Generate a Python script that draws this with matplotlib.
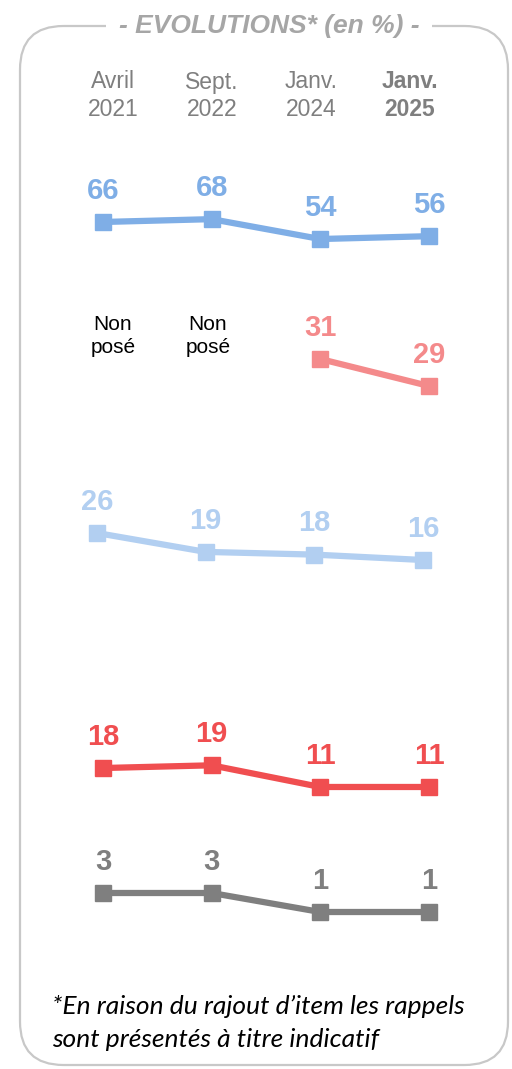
import matplotlib
matplotlib.use("Agg")
import matplotlib.pyplot as plt
import numpy as np
from matplotlib.patches import FancyBboxPatch

# ---- data ----
periods_top = ["Avril", "Sept.", "Janv.", "Janv."]
periods_bottom = ["2021", "2022", "2024", "2025"]
s1 = [66, 68, 54, 56]
s2 = [np.nan, np.nan, 31, 29]
s3 = [26, 19, 18, 16]
s4 = [18, 19, 11, 11]
s5 = [3, 3, 1, 1]
not_asked = "Non\nposé"
title = "- EVOLUTIONS* (en %) -"
footnote = "*En raison du rajout d\u2019item les rappels\nsont présentés à titre indicatif"

W, H = 512, 1069
fig = plt.figure(figsize=(W / 100, H / 100), dpi=100)
plt.rcParams['font.family'] = ['Liberation Sans', 'DejaVu Sans']

def fx(x):
    return x / W

def fy(y):
    return 1 - y / H

# rounded frame
frame = FancyBboxPatch((fx(20), fy(1065)), fx(508) - fx(20), fy(26) - fy(1065),
                       boxstyle="round,pad=0,rounding_size=0.085",
                       transform=fig.transFigure, fill=False,
                       edgecolor="#C8C8C8", linewidth=1.6, mutation_aspect=W / H)
fig.add_artist(frame)
fig.text(fx(269), fy(26), title, ha="center", va="center", fontsize=19,
         fontstyle="italic", fontweight="bold", color="#A6A6A6",
         bbox=dict(facecolor="white", edgecolor="none", pad=9))

# header
hx = [113, 212, 311, 410]
for i, (a, b) in enumerate(zip(periods_top, periods_bottom)):
    fw = "bold" if i == 3 else "normal"
    fig.text(fx(hx[i]), fy(82), a, ha="center", va="center", fontsize=16.5,
             color="#7F7F7F", fontweight=fw)
    fig.text(fx(hx[i]), fy(109), b, ha="center", va="center", fontsize=16.5,
             color="#7F7F7F", fontweight=fw)

def series_axes(x0, x1, ytop, ybot, ylim):
    ax = fig.add_axes([fx(x0), fy(ybot), fx(x1) - fx(x0), fy(ytop) - fy(ybot)])
    ax.set_xlim(0, 3)
    ax.set_ylim(*ylim)
    ax.axis("off")
    return ax

series = [
    (s1, "#7FAEE6", 103, 429, 216.3, 244.7, (50, 70)),
    (s2, "#F48A8B", 103, 429, 345.5, 399.5, (28, 32)),
    (s3, "#B2CFF1", 97, 423, 530.3, 562.7, (15, 27)),
    (s4, "#F04E50", 103, 429, 762.6, 789.7, (10, 20)),
    (s5, "#7F7F7F", 103, 429, 883.5, 921.5, (0, 4)),
]

for vals, col, x0, x1, yt, yb, yl in series:
    ax = series_axes(x0, x1, yt, yb, yl)
    xs = np.arange(len(vals))
    ax.plot(xs, vals, color=col, lw=4.5, marker="s", markersize=11,
            solid_capstyle="butt", clip_on=False)
    for x, v in zip(xs, vals):
        if np.isnan(v):
            continue
        ax.annotate(f"{int(v)}", (x, v), xytext=(0, 22.5), textcoords="offset points",
                    ha="center", va="center", fontsize=21, fontweight="bold",
                    color=col, annotation_clip=False)

# "Non posé" labels
for x in [113, 208]:
    fig.text(fx(x), fy(336), not_asked, ha="center", va="center", fontsize=15,
             color="black", linespacing=1.25)

fig.text(fx(52), fy(1023), footnote, ha="left", va="center", fontsize=19,
         fontstyle="italic", color="black", family=["Lato", "DejaVu Sans"],
         linespacing=1.55)

fig.savefig("out.png", dpi=100)
